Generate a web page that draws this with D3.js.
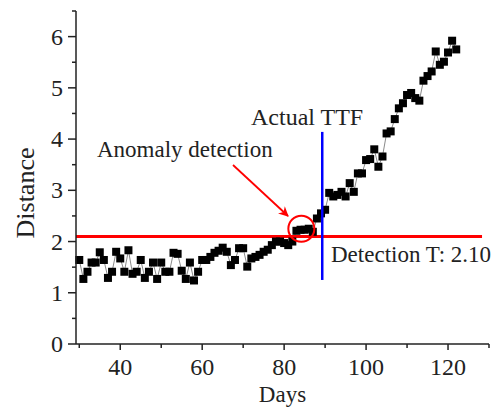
<!DOCTYPE html>
<html>
<head>
<meta charset="utf-8">
<script src="https://cdn.jsdelivr.net/npm/d3@7"></script>
<style>
  body { margin: 0; background: #fff; }
  svg text { font-family: "Liberation Serif", "Times New Roman", serif; fill: #222; }
</style>
</head>
<body>
<div id="chart"></div>
<script>
const days = [30, 31, 32, 33, 34, 35, 36, 37, 38, 39, 40, 41, 42, 43, 44, 45, 46, 47, 48, 49,
  50, 51, 52, 53, 54, 55, 56, 57, 58, 59, 60, 61, 62, 63, 64, 65, 66, 67, 68, 69,
  70, 71, 72, 73, 74, 75, 76, 77, 78, 79, 80, 81, 82, 83, 84, 85, 86, 87, 88, 89,
  90, 91, 92, 93, 94, 95, 96, 97, 98, 99, 100, 101, 102, 103, 104, 105, 106, 107, 108, 109,
  110, 111, 112, 113, 114, 115, 116, 117, 118, 119, 120, 121, 122]

// distance values
const distance = [1.64, 1.27, 1.41, 1.59, 1.59, 1.79, 1.64, 1.29, 1.41, 1.80, 1.67, 1.41, 1.83, 1.37, 1.41, 1.64, 1.29, 1.41, 1.59, 1.27,
  1.59, 1.41, 1.41, 1.78, 1.76, 1.43, 1.27, 1.59, 1.24, 1.41, 1.64, 1.64, 1.70, 1.78, 1.82, 1.88, 1.80, 1.54, 1.64, 1.87,
  1.87, 1.51, 1.67, 1.70, 1.74, 1.80, 1.84, 1.93, 2.00, 2.00, 1.97, 1.93, 2.00, 2.21, 2.23, 2.23, 2.25, 2.19, 2.45, 2.55,
  2.62, 2.95, 2.88, 2.91, 2.97, 2.88, 3.14, 2.97, 3.33, 3.33, 3.59, 3.61, 3.80, 3.46, 3.66, 4.11, 4.15, 4.39, 4.60, 4.70,
  4.86, 4.90, 4.80, 4.75, 5.14, 5.23, 5.32, 5.71, 5.45, 5.51, 5.69, 5.92, 5.75]

const xTicks = [40, 60, 80, 100, 120]
const yTicks = [0, 1, 2, 3, 4, 5, 6]

const threshold = 2.10
const ttfDay = 89.3
const ttfRange = [1.25, 4.14]
const detectPoint = {day: 84.2, value: 2.25}

const w = 501, h = 409

let svg = d3.select('#chart').append('svg')
  .attr('width', w)
  .attr('height', h)

let x = d3.scaleLinear().domain([29.2, 130]).range([76, 489])
let y = d3.scaleLinear().domain([0, 6.5]).range([344, 11])

let data = days.map((d, i) => ({day: d, value: distance[i]}))

//connecting line
svg.append('path')
  .datum(data)
  .attr('fill', 'none')
  .attr('stroke', '#8a8a8a')
  .attr('stroke-width', 1)
  .attr('d', d3.line().x(d => x(d.day)).y(d => y(d.value)))

//threshold line
svg.append('line')
  .attr('x1', x(29.2)).attr('x2', x(128.3))
  .attr('y1', y(threshold)).attr('y2', y(threshold))
  .attr('stroke', '#ff0000')
  .attr('stroke-width', 3)

//markers
svg.selectAll('.pt')
  .data(data)
  .join('rect')
  .attr('class', 'pt')
  .attr('x', d => x(d.day) - 4)
  .attr('y', d => y(d.value) - 4)
  .attr('width', 8)
  .attr('height', 8)
  .attr('fill', '#000')

//actual TTF line
svg.append('line')
  .attr('x1', x(ttfDay)).attr('x2', x(ttfDay))
  .attr('y1', y(ttfRange[0])).attr('y2', y(ttfRange[1]))
  .attr('stroke', '#0000ff')
  .attr('stroke-width', 2.5)

//detection circle
svg.append('circle')
  .attr('cx', x(detectPoint.day))
  .attr('cy', y(detectPoint.value))
  .attr('r', 13)
  .attr('fill', 'none')
  .attr('stroke', '#ff0000')
  .attr('stroke-width', 2)

//arrow
svg.append('defs').append('marker')
  .attr('id', 'arrow')
  .attr('viewBox', '0 0 10 10')
  .attr('refX', 9).attr('refY', 5)
  .attr('markerWidth', 12).attr('markerHeight', 10)
  .attr('markerUnits', 'userSpaceOnUse')
  .attr('orient', 'auto')
  .append('path')
  .attr('d', 'M0,0 L10,5 L0,10 L3,5 Z')
  .attr('fill', '#ff0000')

svg.append('line')
  .attr('x1', 233).attr('y1', 165)
  .attr('x2', 288).attr('y2', 216)
  .attr('stroke', '#ff0000')
  .attr('stroke-width', 1.8)
  .attr('marker-end', 'url(#arrow)')

//axes
let xAxis = svg.append('g').attr('transform', `translate(0,${y(0)})`)
xAxis.append('line').attr('x1', x(29.2)).attr('x2', x(130)).attr('stroke', '#222').attr('stroke-width', 1.5)
xAxis.selectAll('.xminor')
  .data([30, 50, 70, 90, 110, 130])
  .join('line')
  .attr('x1', d => x(d)).attr('x2', d => x(d))
  .attr('y1', 0).attr('y2', 4)
  .attr('stroke', '#222').attr('stroke-width', 1.5)
xAxis.selectAll('.xmajor')
  .data(xTicks)
  .join('line')
  .attr('x1', d => x(d)).attr('x2', d => x(d))
  .attr('y1', 0).attr('y2', 6)
  .attr('stroke', '#222').attr('stroke-width', 1.5)
xAxis.selectAll('.xlab')
  .data(xTicks)
  .join('text')
  .attr('x', d => x(d))
  .attr('y', 31)
  .attr('text-anchor', 'middle')
  .style('font-size', '24px')
  .text(d => d)

let yAxis = svg.append('g').attr('transform', `translate(${x(29.2)},0)`)
yAxis.append('line').attr('y1', y(0)).attr('y2', y(6.5)).attr('stroke', '#222').attr('stroke-width', 1.5)
yAxis.selectAll('.yminor')
  .data([0.5, 1.5, 2.5, 3.5, 4.5, 5.5, 6.5])
  .join('line')
  .attr('y1', d => y(d)).attr('y2', d => y(d))
  .attr('x1', 0).attr('x2', -4)
  .attr('stroke', '#222').attr('stroke-width', 1.5)
yAxis.selectAll('.ymajor')
  .data(yTicks)
  .join('line')
  .attr('y1', d => y(d)).attr('y2', d => y(d))
  .attr('x1', 0).attr('x2', -8)
  .attr('stroke', '#222').attr('stroke-width', 1.5)
yAxis.selectAll('.ylab')
  .data(yTicks)
  .join('text')
  .attr('x', -13)
  .attr('y', d => y(d))
  .attr('dy', '0.34em')
  .attr('text-anchor', 'end')
  .style('font-size', '24px')
  .text(d => d)

//axis titles
svg.append('text')
  .attr('x', (x(29.2) + x(130)) / 2)
  .attr('y', 402)
  .attr('text-anchor', 'middle')
  .style('font-size', '23px')
  .text('Days')

svg.append('text')
  .attr('transform', 'translate(34,193) rotate(-90)')
  .attr('text-anchor', 'middle')
  .style('font-size', '26px')
  .text('Distance')

//annotations
svg.append('text').attr('x', 251).attr('y', 125).style('font-size', '24px').text('Actual TTF')
svg.append('text').attr('x', 97).attr('y', 157).style('font-size', '23px').text('Anomaly detection')
svg.append('text').attr('x', 331).attr('y', 262).style('font-size', '23px').text('Detection T: 2.10')
</script>
</body>
</html>
